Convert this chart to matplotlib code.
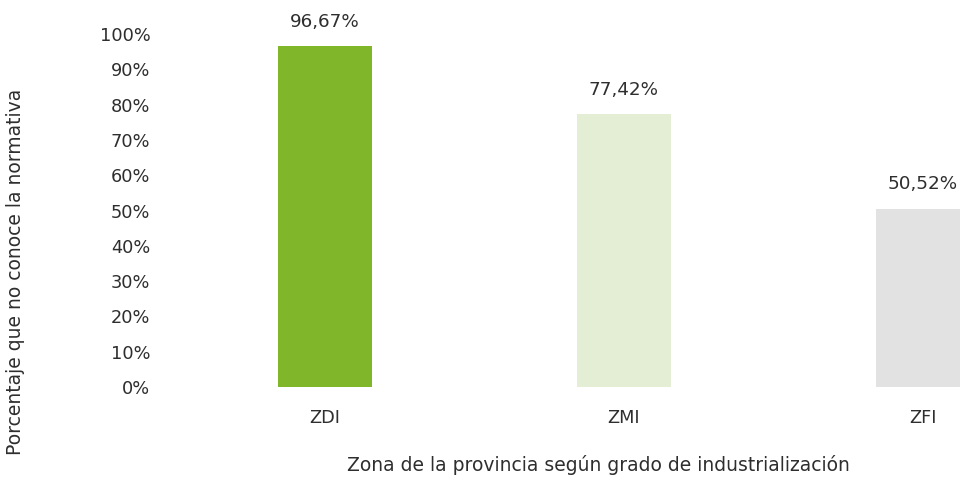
import matplotlib
matplotlib.use('Agg')
import matplotlib.pyplot as plt

# Data
zones = ['ZDI', 'ZMI', 'ZFI']
pct_unaware = [96.67, 77.42, 50.52]
value_labels = ['96,67%', '77,42%', '50,52%']
y_ticks = [0, 10, 20, 30, 40, 50, 60, 70, 80, 90, 100]

bar_colors = ['#7fb62a', '#e4eed5', '#e2e2e2']
text_color = '#2e2e2e'
fsize = 12.8

plt.rcParams['font.family'] = ['DejaVu Sans']

fig = plt.figure(figsize=(9.6, 4.79), dpi=100)
# axes spans pixel x 160..960, y 34..387 (from top)
ax = fig.add_axes([160 / 960, 1 - 387 / 479, 800 / 960, 353 / 479])

x = list(range(len(zones)))
ax.bar(x, pct_unaware, width=0.315, color=bar_colors)

for xi, val, lab in zip(x, pct_unaware, value_labels):
    ax.text(xi, val + 4.3, lab, ha='center', va='bottom', fontsize=fsize + 0.4, color=text_color)

ax.set_xlim(-0.552, 2.124)
ax.set_ylim(0, 100)
ax.set_yticks(y_ticks)
ax.set_yticklabels([f'{t}%' for t in y_ticks])
ax.set_xticks(x)
ax.set_xticklabels(zones)
ax.tick_params(axis='both', length=0, labelsize=fsize, colors=text_color)
ax.tick_params(axis='x', pad=16)
ax.tick_params(axis='y', pad=7)
for spine in ax.spines.values():
    spine.set_visible(False)

fig.text(598 / 960, 1 - 465 / 479, 'Zona de la provincia según grado de industrialización',
         ha='center', va='center', fontsize=13.5, color=text_color)
fig.text(16 / 960, 1 - 272 / 479, 'Porcentaje que no conoce la normativa',
         ha='center', va='center', rotation=90, fontsize=13.5, color=text_color)

fig.savefig('out.png', dpi=100)
